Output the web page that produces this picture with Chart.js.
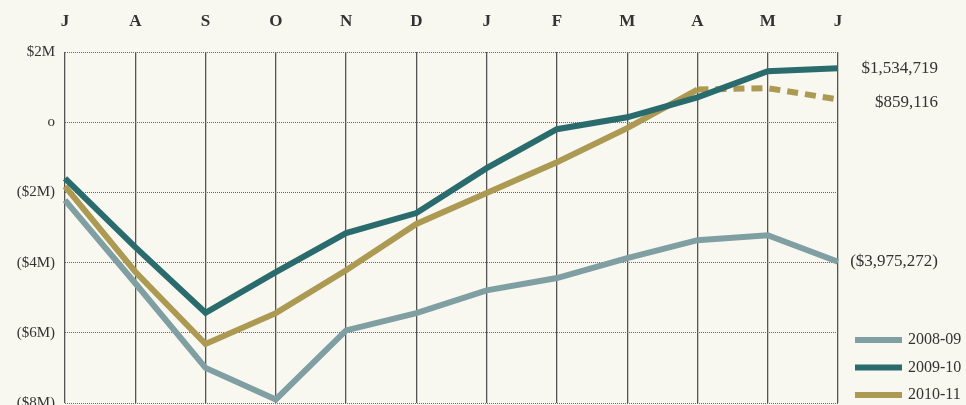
<!DOCTYPE html>
<html>
<head>
<meta charset="utf-8">
<script src="https://cdn.jsdelivr.net/npm/chart.js@4.4.1/dist/chart.umd.min.js"></script>
<style>
  html, body { margin: 0; padding: 0; background: #f8f7f0; }
  #wrap { width: 966px; height: 405px; }
</style>
</head>
<body>
<div id="wrap"><canvas id="chart"></canvas></div>
<script>
// Fiscal year months, July to June
const months = ['J', 'A', 'S', 'O', 'N', 'D', 'J', 'F', 'M', 'A', 'M', 'J'];
const yTicks = [2e6, 0, -2e6, -4e6, -6e6, -8e6];

// Cumulative balances in dollars
const fy0809 = [-2.22e6, -4.59e6, -7.0e6, -7.9e6, -5.93e6, -5.44e6, -4.79e6, -4.44e6, -3.87e6, -3.36e6, -3.22e6, -3975272];
const fy0910 = [-1.6e6, -3.56e6, -5.43e6, -4.27e6, -3.16e6, -2.59e6, -1.31e6, -0.2e6, 0.14e6, 0.71e6, 1.45e6, 1534719];
const fy1011 = [-1.83e6, -4.26e6, -6.32e6, -5.44e6, -4.22e6, -2.9e6, -2.02e6, -1.14e6, -0.17e6, 0.93e6, 0.97e6, 0.65e6];

const endLabels = ['($3,975,272)', '$1,534,719', '$859,116'];
const seriesNames = ['2008-09', '2009-10', '2010-11'];
const colors = ['#7f9fa3', '#2a6b6e', '#ac9a52'];
const lastActual = 9; // 2010-11 is projected after April

function money(v) {
  if (v === 0) return 'o';
  const m = Math.abs(v / 1e6);
  return v < 0 ? '($' + m + 'M)' : '$' + m + 'M';
}

Chart.defaults.font.family = "'Liberation Serif', 'DejaVu Serif', serif";
Chart.defaults.color = '#333';

// end-of-line values and the legend, drawn beside the plot
const sidePlugin = {
  id: 'side',
  afterDatasetsDraw(chart) {
    const ctx = chart.ctx;
    ctx.save();
    ctx.font = "17px 'Liberation Serif', serif";
    ctx.fillStyle = '#333';
    ctx.textAlign = 'right';
    ctx.textBaseline = 'middle';
    chart.data.datasets.forEach((ds, i) => {
      const pts = chart.getDatasetMeta(i).data;
      const p = pts[pts.length - 1];
      ctx.fillText(endLabels[i], 938, p.y + (i === 2 ? 3 : 0));
    });

    ctx.textAlign = 'left';
    ctx.font = "16px 'Liberation Serif', serif";
    seriesNames.forEach((name, i) => {
      const y = 340 + i * 27.5;
      ctx.fillStyle = colors[i];
      ctx.fillRect(855, y - 3, 47, 6);
      ctx.fillStyle = '#333';
      ctx.fillText(name, 908, y);
    });
    ctx.restore();
  }
};

new Chart(document.getElementById('chart'), {
  type: 'line',
  data: {
    labels: months,
    datasets: [
      { label: seriesNames[0], data: fy0809, borderColor: colors[0] },
      { label: seriesNames[1], data: fy0910, borderColor: colors[1] },
      {
        label: seriesNames[2], data: fy1011, borderColor: colors[2],
        segment: {
          borderDash: c => c.p0DataIndex >= lastActual ? [11, 7] : undefined
        }
      }
    ]
  },
  options: {
    responsive: true,
    maintainAspectRatio: false,
    animation: false,
    layout: { padding: { right: 128, bottom: 2 } },
    elements: {
      line: { borderWidth: 6, tension: 0, borderJoinStyle: 'miter', borderCapStyle: 'butt' },
      point: { radius: 0 }
    },
    plugins: { legend: { display: false }, tooltip: { enabled: false } },
    scales: {
      x: {
        position: 'top',
        offset: false,
        afterFit: s => { s.height = 52; s.paddingLeft = 0; s.paddingRight = 0; },
        grid: { color: '#555', lineWidth: 1.3, drawTicks: false },
        border: { display: false },
        ticks: { padding: 20, font: { size: 17, weight: 'bold' }, color: '#333', maxRotation: 0, autoSkip: false }
      },
      y: {
        min: -8e6,
        max: 2e6,
        afterFit: s => { s.width = 65; s.paddingTop = 0; s.paddingBottom = 0; },
        afterBuildTicks: s => { s.ticks = yTicks.map(v => ({ value: v })); },
        grid: { color: '#666', lineWidth: 1, drawTicks: false },
        border: { display: false, dash: [1, 1] },
        ticks: { padding: 10, font: { size: 15 }, color: '#333', callback: v => money(v) }
      }
    }
  },
  plugins: [sidePlugin]
});
</script>
</body>
</html>
